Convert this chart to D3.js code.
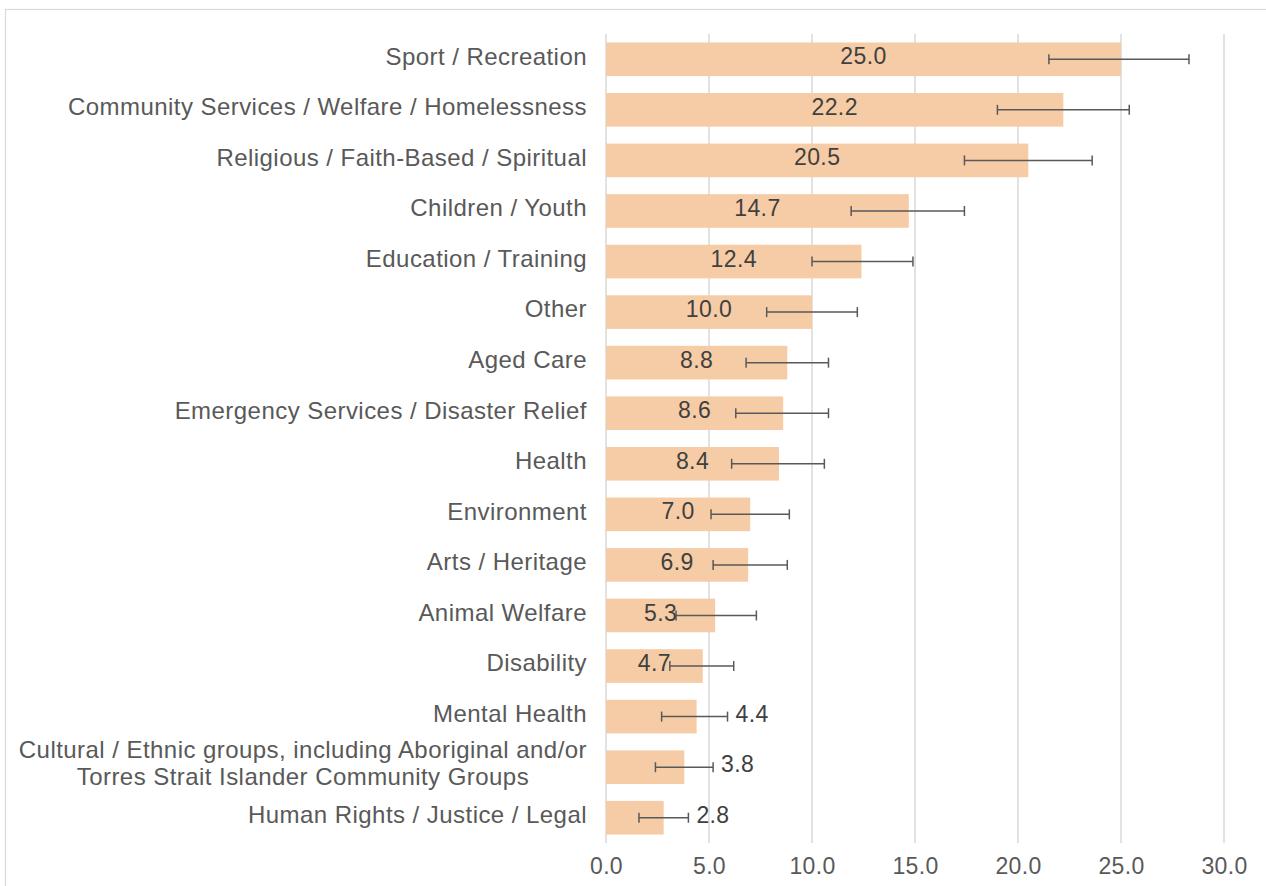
<!DOCTYPE html>
<html>
<head>
<meta charset="utf-8">
<script src="https://cdn.jsdelivr.net/npm/d3@7"></script>
<style>
  body { margin: 0; background: #fff; }
  text { font-family: "Liberation Sans", Arial, sans-serif; }
</style>
</head>
<body>
<svg id="svg" width="1266" height="886"></svg>
<script>
// Data
var categories = [
  "Sport / Recreation",
  "Community Services / Welfare / Homelessness",
  "Religious / Faith-Based / Spiritual",
  "Children / Youth",
  "Education / Training",
  "Other",
  "Aged Care",
  "Emergency Services / Disaster Relief",
  "Health",
  "Environment",
  "Arts / Heritage",
  "Animal Welfare",
  "Disability",
  "Mental Health",
  "Cultural / Ethnic groups, including Aboriginal and/or|Torres Strait Islander Community Groups",
  "Human Rights / Justice / Legal"
];
var values = [25.0, 22.2, 20.5, 14.7, 12.4, 10.0, 8.8, 8.6, 8.4, 7.0, 6.9, 5.3, 4.7, 4.4, 3.8, 2.8];
var errLow = [21.5, 19.0, 17.4, 11.9, 10.0, 7.8, 6.8, 6.3, 6.1, 5.1, 5.2, 3.4, 3.1, 2.7, 2.4, 1.6];
var errHigh = [28.3, 25.4, 23.6, 17.4, 14.9, 12.2, 10.8, 10.8, 10.6, 8.9, 8.8, 7.3, 6.2, 5.9, 5.2, 4.0];
var xTicks = [0, 5, 10, 15, 20, 25, 30];

var data = categories.map((c, i) => {
  return { cat: c, value: values[i], lo: errLow[i], hi: errHigh[i] };
});

var svg = d3.select("#svg");

const margin = { top: 34, right: 42, bottom: 43, left: 606 },
  width = +svg.attr("width") - margin.left - margin.right,
  height = +svg.attr("height") - margin.top - margin.bottom;

// chart border
svg.append("rect")
  .attr("x", 5.5).attr("y", 9.5)
  .attr("width", 1300).attr("height", 900)
  .attr("fill", "none")
  .attr("stroke", "#d9d9d9")
  .attr("stroke-width", 1.2);

var g = svg.append("g").attr("transform", "translate(" + margin.left + "," + margin.top + ")");

var x = d3.scaleLinear().domain([0, 30]).range([0, width]);
var y = d3.scaleBand()
  .domain(data.map(d => d.cat))
  .range([0, height])
  .paddingInner(0.335)
  .paddingOuter(0.1675);

// gridlines
g.selectAll(".grid")
  .data(xTicks)
  .enter().append("line")
  .attr("class", "grid")
  .attr("x1", d => x(d)).attr("x2", d => x(d))
  .attr("y1", 0).attr("y2", height)
  .attr("stroke", "#d9d9d9")
  .attr("stroke-width", 1.5);

// x axis labels
var xAxis = g.append("g")
  .attr("transform", "translate(0," + height + ")")
  .call(d3.axisBottom(x).tickValues(xTicks).tickFormat(d3.format(".1f")).tickSize(0).tickPadding(15));
xAxis.select(".domain").remove();
xAxis.selectAll("text")
  .attr("fill", "#595959")
  .style("font-size", "23px")
  .style("letter-spacing", "0.3px");

// bars
g.selectAll(".bar")
  .data(data)
  .enter().append("rect")
  .attr("class", "bar")
  .attr("x", x(0))
  .attr("y", d => y(d.cat))
  .attr("width", d => x(d.value) - x(0))
  .attr("height", y.bandwidth())
  .attr("fill", "#F6CCA6");

// error bars
var err = g.selectAll(".err")
  .data(data)
  .enter().append("g")
  .attr("class", "err")
  .attr("stroke", "#595959")
  .attr("stroke-width", 1.5);
err.append("line")
  .attr("x1", d => x(d.lo)).attr("x2", d => x(d.hi))
  .attr("y1", d => y(d.cat) + y.bandwidth() / 2)
  .attr("y2", d => y(d.cat) + y.bandwidth() / 2);
err.append("line")
  .attr("x1", d => x(d.lo)).attr("x2", d => x(d.lo))
  .attr("y1", d => y(d.cat) + y.bandwidth() / 2 - 5)
  .attr("y2", d => y(d.cat) + y.bandwidth() / 2 + 5);
err.append("line")
  .attr("x1", d => x(d.hi)).attr("x2", d => x(d.hi))
  .attr("y1", d => y(d.cat) + y.bandwidth() / 2 - 5)
  .attr("y2", d => y(d.cat) + y.bandwidth() / 2 + 5);

// value labels: centred in the bar, or after the error bar for the small ones
g.selectAll(".val")
  .data(data)
  .enter().append("text")
  .attr("class", "val")
  .attr("x", d => d.value < 4.5 ? x(d.hi) + 8 : x(d.value / 2))
  .attr("y", d => y(d.cat) + y.bandwidth() / 2 - 3)
  .attr("dy", "0.35em")
  .attr("text-anchor", d => d.value < 4.5 ? "start" : "middle")
  .attr("fill", "#404040")
  .style("font-size", "23px")
  .style("letter-spacing", "0.4px")
  .text(d => d3.format(".1f")(d.value));

// category labels
var labels = g.selectAll(".cat")
  .data(data)
  .enter().append("text")
  .attr("class", "cat")
  .attr("fill", "#595959")
  .style("font-size", "24px")
  .style("letter-spacing", "0.45px")
  .attr("text-anchor", "end");

labels.each(function (d) {
  var parts = d.cat.split("|");
  var t = d3.select(this);
  var cy = y(d.cat) + y.bandwidth() / 2;
  if (parts.length == 1) {
    t.attr("x", -19).attr("y", cy - 3).attr("dy", "0.35em").text(parts[0]);
  } else {
    // two line label, second line centred under the first
    t.attr("text-anchor", "middle");
    var first = t.append("tspan").attr("y", cy - 18).attr("dy", "0.35em").text(parts[0]);
    var w = first.node().getComputedTextLength();
    var mid = -19 - w / 2;
    first.attr("x", mid);
    t.append("tspan").attr("x", mid).attr("y", cy + 9).attr("dy", "0.35em").text(parts[1]);
  }
});
</script>
</body>
</html>
